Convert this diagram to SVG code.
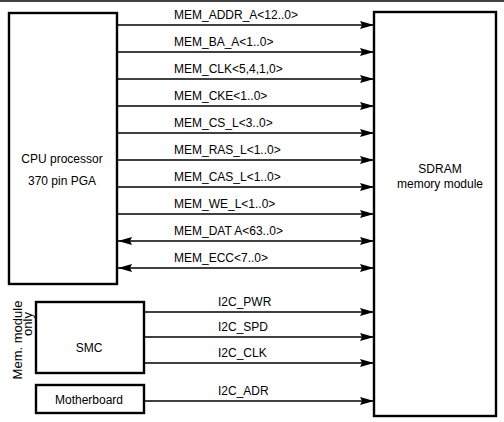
<svg xmlns="http://www.w3.org/2000/svg" width="504" height="422" viewBox="0 0 504 422">
<style>
text{font-family:"Liberation Sans",Arial,sans-serif;font-size:12px;fill:#000}
.box{fill:#fff;stroke:#000;stroke-width:2.4}
.ln{stroke:#000;stroke-width:1.3;fill:none}
.c{text-anchor:middle}
.v{font-size:13px}
</style>
<defs>
<marker id="ah" markerUnits="userSpaceOnUse" markerWidth="15" markerHeight="10" refX="14" refY="4.5" orient="auto">
<path d="M0,0.5 L14,4.5 L0,8.5 L2,4.5 z" fill="#000"/>
</marker>
<marker id="ahs" markerUnits="userSpaceOnUse" markerWidth="15" markerHeight="10" refX="14" refY="4.5" orient="auto-start-reverse">
<path d="M0,0.5 L14,4.5 L0,8.5 L2,4.5 z" fill="#000"/>
</marker>
</defs>
<rect width="504" height="422" fill="#fff"/>
<line x1="0" y1="1" x2="504" y2="1" stroke="#000" stroke-width="1.5"/>

<g id="connectors">
<line class="ln" x1="118" y1="25" x2="374" y2="25" marker-end="url(#ah)"/>
<line class="ln" x1="118" y1="52" x2="374" y2="52" marker-end="url(#ah)"/>
<line class="ln" x1="118" y1="79" x2="374" y2="79" marker-end="url(#ah)"/>
<line class="ln" x1="118" y1="106" x2="374" y2="106" marker-end="url(#ah)"/>
<line class="ln" x1="118" y1="133" x2="374" y2="133" marker-end="url(#ah)"/>
<line class="ln" x1="118" y1="160" x2="374" y2="160" marker-end="url(#ah)"/>
<line class="ln" x1="118" y1="187" x2="374" y2="187" marker-end="url(#ah)"/>
<line class="ln" x1="118" y1="214" x2="374" y2="214" marker-end="url(#ah)"/>
<line class="ln" x1="118" y1="241" x2="374" y2="241" marker-start="url(#ahs)" marker-end="url(#ahs)"/>
<line class="ln" x1="118" y1="268" x2="374" y2="268" marker-start="url(#ahs)" marker-end="url(#ahs)"/>
<line class="ln" x1="145" y1="312" x2="374" y2="312" marker-end="url(#ah)"/>
<line class="ln" x1="145" y1="337" x2="374" y2="337" marker-end="url(#ah)"/>
<line class="ln" x1="145" y1="363" x2="374" y2="363" marker-end="url(#ah)"/>
<line class="ln" x1="145" y1="401" x2="374" y2="401" marker-end="url(#ah)"/>
<text x="174" y="19">MEM_ADDR_A&lt;12..0&gt;</text>
<text x="174" y="46">MEM_BA_A&lt;1..0&gt;</text>
<text x="174" y="73">MEM_CLK&lt;5,4,1,0&gt;</text>
<text x="174" y="100">MEM_CKE&lt;1..0&gt;</text>
<text x="174" y="127">MEM_CS_L&lt;3..0&gt;</text>
<text x="174" y="154">MEM_RAS_L&lt;1..0&gt;</text>
<text x="174" y="181">MEM_CAS_L&lt;1..0&gt;</text>
<text x="174" y="208">MEM_WE_L&lt;1..0&gt;</text>
<text x="174" y="235">MEM_DAT A&lt;63..0&gt;</text>
<text x="174" y="262">MEM_ECC&lt;7..0&gt;</text>
<text x="218" y="306">I2C_PWR</text>
<text x="218" y="331">I2C_SPD</text>
<text x="218" y="357">I2C_CLK</text>
<text x="218" y="395">I2C_ADR</text>
</g>

<g id="cpu">
<rect class="box" x="9" y="13" width="108" height="271"/>
<text class="c" x="62" y="163">CPU processor</text>
<text class="c" x="62" y="185">370 pin PGA</text>
</g>

<g id="sdram">
<rect class="box" x="374" y="12" width="122" height="404"/>
<text class="c" x="440" y="173">SDRAM</text>
<text class="c" x="440" y="188">memory module</text>
</g>

<g id="smc">
<rect class="box" x="36" y="302" width="108" height="71"/>
<text class="c" x="89" y="352">SMC</text>
</g>

<g id="motherboard">
<rect class="box" x="36" y="385" width="108" height="28"/>
<text class="c" x="89" y="404">Motherboard</text>
</g>

<g id="note">
<text class="c v" transform="translate(22,340) rotate(-90)">Mem. module</text>
<text class="c v" transform="translate(32,324) rotate(-90)">only</text>
</g>
</svg>
